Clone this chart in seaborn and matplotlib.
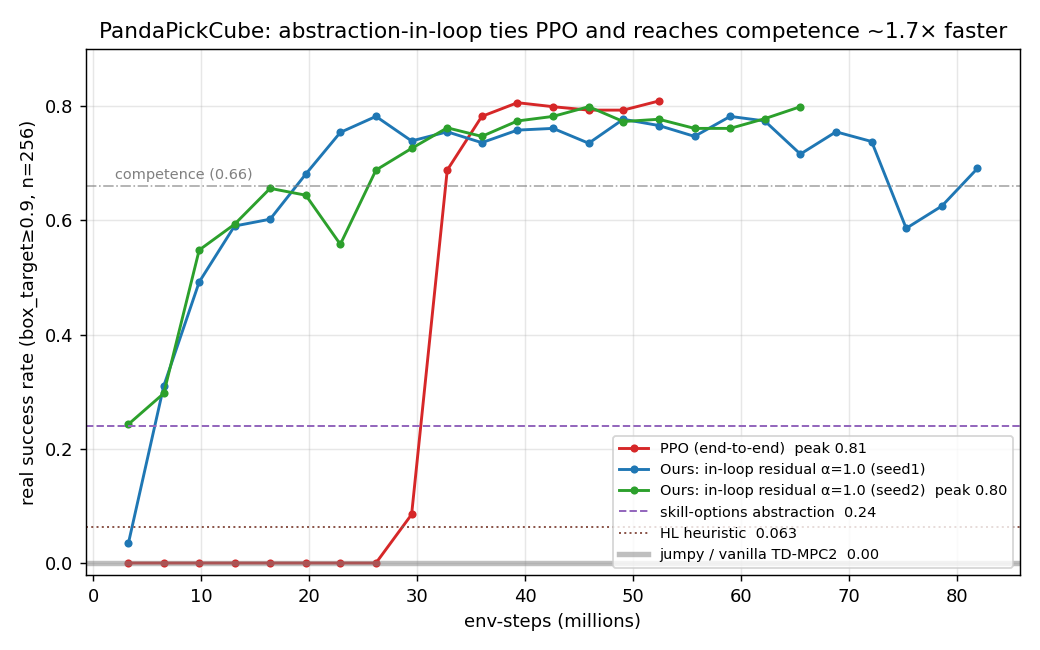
import matplotlib
matplotlib.use("Agg")
import matplotlib.pyplot as plt
import seaborn as sns

ppo_x = [3.28, 6.55, 9.83, 13.1, 16.4, 19.7, 22.9, 26.2, 29.5, 32.8, 36.0, 39.3, 42.6, 45.9, 49.1, 52.4]
ppo_y = [0.0, 0.0, 0.0, 0.0, 0.0, 0.0, 0.0, 0.0, 0.085, 0.688, 0.782, 0.806, 0.799, 0.793, 0.793, 0.809]

seed1_x = [3.28, 6.55, 9.83, 13.1, 16.4, 19.7, 22.9, 26.2, 29.5, 32.8, 36.0, 39.3, 42.6,
           45.9, 49.1, 52.4, 55.7, 59.0, 62.2, 65.5, 68.8, 72.1, 75.3, 78.6, 81.9]
seed1_y = [0.035, 0.31, 0.492, 0.59, 0.602, 0.681, 0.754, 0.782, 0.739, 0.755, 0.736, 0.758,
           0.761, 0.735, 0.777, 0.766, 0.747, 0.782, 0.774, 0.716, 0.755, 0.738, 0.586, 0.625, 0.691]

seed2_x = [3.28, 6.55, 9.83, 13.1, 16.4, 19.7, 22.9, 26.2, 29.5, 32.8, 36.0, 39.3, 42.6,
           45.9, 49.1, 52.4, 55.7, 59.0, 62.2, 65.5]
seed2_y = [0.243, 0.297, 0.548, 0.593, 0.656, 0.644, 0.558, 0.688, 0.726, 0.762, 0.747, 0.774,
           0.782, 0.799, 0.773, 0.777, 0.761, 0.761, 0.778, 0.799]

skill_options = 0.24
hl_heuristic = 0.063
jumpy = 0.0
competence = 0.66

plt.rcParams['font.family'] = ['DejaVu Sans']

fig = plt.figure(figsize=(8, 5), dpi=130)
ax = fig.add_axes([0.0827, 0.1154, 0.898, 0.8092])

kw = dict(marker="o", markersize=4.5, markeredgewidth=0, linewidth=1.6, ax=ax)
sns.lineplot(x=ppo_x, y=ppo_y, color="tab:red", label="PPO (end-to-end)  peak 0.81", **kw)
sns.lineplot(x=seed1_x, y=seed1_y, color="tab:blue",
             label="Ours: in-loop residual α=1.0 (seed1)", **kw)
sns.lineplot(x=seed2_x, y=seed2_y, color="tab:green",
             label="Ours: in-loop residual α=1.0 (seed2)  peak 0.80", **kw)
ax.axhline(skill_options, color="tab:purple", linestyle="--", linewidth=1.1,
           label="skill-options abstraction  0.24")
ax.axhline(hl_heuristic, color="tab:brown", linestyle=":", linewidth=1.1,
           label="HL heuristic  0.063")
ax.axhline(jumpy, color="gray", linestyle="-", linewidth=3, alpha=0.5,
           label="jumpy / vanilla TD-MPC2  0.00")
ax.axhline(competence, color="gray", linestyle="-.", linewidth=0.9, alpha=0.7)
ax.text(2.0, competence + 0.012, "competence (0.66)", color="gray", fontsize=8)

ax.set_ylim(-0.021, 0.9)
ax.grid(True, alpha=0.3)
ax.set_xlabel("env-steps (millions)")
ax.set_ylabel("real success rate (box_target≥0.9, n=256)")
ax.set_title("PandaPickCube: abstraction-in-loop ties PPO and reaches competence ~1.7× faster",
             fontsize=12)
ax.legend(loc="lower right", fontsize=8)

fig.savefig("out.png", dpi=130)
